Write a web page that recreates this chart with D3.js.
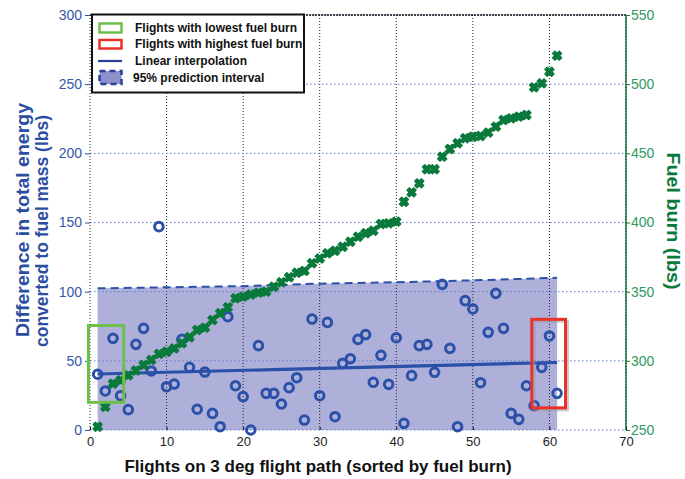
<!DOCTYPE html>
<html><head><meta charset="utf-8">
<script src="https://cdn.jsdelivr.net/npm/d3@7"></script>
<style>body{margin:0;background:#fff}svg{display:block;font-family:"Liberation Sans",Arial,sans-serif}</style>
</head><body><svg id="c" width="685" height="479"></svg>
<script>
// ---- data ----
const flights = d3.range(1, 62);
const energyDiff = [40.3,28.2,66.3,24.8,14.7,61.9,73.5,42.7,147,31.3,33.2,65.5,45.3,15,41.9,12,2.4,81.9,32,24.1,0,61,26.5,26.5,18.8,30.6,37.8,7.2,80.2,24.8,77.8,9.6,48.2,51.5,65.5,69,34.5,54,33,66.7,4.8,39.3,61,61.9,41.7,105.3,59,2.4,93.5,87.5,34.2,70.6,98.8,73.5,12,7.7,32,17.6,45.3,68,26.5];
const fuelBurn = [252.4,266.8,283.5,286,289.5,293,297,300.6,305,306.6,309,312.7,317,322.3,324,329.5,334.4,338.7,345.2,346.4,348,349.3,350,353.6,356.8,360.4,363.7,365,370.5,374,377.7,379.6,382.5,386.1,389.7,392.2,394,398.9,399.4,400.6,415,421.8,428.3,438.5,438.5,447.6,453.1,457.3,460.9,462,462.5,465,469.3,474.1,475.3,476.5,477.7,497.7,500.6,509,520.6];
const fitX = [1, 61];
const fitY = [40.5, 48.8];
const piX = [1, 20, 30, 40, 50, 61];
const piUpper = [102.4, 104, 105.8, 106.8, 108.2, 110];
const piLower = [0, 0, 0, 0, 0, 0];
const xTicks = [0,10,20,30,40,50,60,70];
const yLeftTicks = [0,50,100,150,200,250,300];
const yRightTicks = [250,300,350,400,450,500,550];
const lowBox = {x0:-0.2, x1:4.4, y0:20, y1:75.5};
const highBox = {x0:57.7, x1:62.1, y0:16, y1:80};
const legendItems = ["Flights with lowest fuel burn","Flights with highest fuel burn","Linear interpolation","95% prediction interval"];

// ---- layout ----
const svg = d3.select("#c");
const x = d3.scaleLinear().domain([0,70]).range([90,626]);
const yL = d3.scaleLinear().domain([0,300]).range([430,15]);
const yR = d3.scaleLinear().domain([250,550]).range([430,15]);
const BLUE = "#2b50a8", GREEN = "#0a7a3c", FILL = "#aeb0da";

// prediction interval fill
const area = d3.area().x((d,i)=>x(piX[i])).y0((d,i)=>yL(piLower[i])).y1((d,i)=>yL(piUpper[i]));
svg.append("path").datum(piX).attr("d", area).attr("fill", FILL);

// gridlines
const g = svg.append("g");
xTicks.slice(1,7).forEach(t=>{
  g.append("line").attr("x1",x(t)).attr("x2",x(t)).attr("y1",yL(0)).attr("y2",yL(300))
   .attr("stroke","#222").attr("stroke-width",1).attr("stroke-dasharray","1,2");
});
yLeftTicks.forEach(t=>{
  g.append("line").attr("x1",x(0)).attr("x2",x(70)).attr("y1",yL(t)).attr("y2",yL(t))
   .attr("stroke","#5a7cc8").attr("stroke-width",1).attr("stroke-dasharray","1.5,2.5");
});
// frame
svg.append("line").attr("x1",x(0)).attr("x2",x(70)).attr("y1",yL(300)).attr("y2",yL(300))
  .attr("stroke","#111").attr("stroke-width",1.6).attr("stroke-dasharray","2,1");
svg.append("line").attr("x1",x(0)).attr("x2",x(0)).attr("y1",yL(0)).attr("y2",yL(300))
  .attr("stroke","#222").attr("stroke-width",1).attr("stroke-dasharray","1,2");
svg.append("line").attr("x1",x(70)).attr("x2",x(70)).attr("y1",yL(0)).attr("y2",yL(300))
  .attr("stroke",GREEN).attr("stroke-width",1.5);
svg.append("line").attr("x1",x(70)).attr("x2",x(70)).attr("y1",yL(0)).attr("y2",yL(300))
  .attr("stroke","#111").attr("stroke-width",0.8).attr("stroke-dasharray","1,2");

// axes
const axL = svg.append("g").attr("transform",`translate(${x(0)},0)`)
  .call(d3.axisLeft(yL).tickValues(yLeftTicks).tickSize(5).tickPadding(3));
axL.select(".domain").remove();
axL.selectAll("line").attr("stroke",BLUE);
axL.selectAll("text").attr("fill","#3558a8").attr("font-size",14);

const axR = svg.append("g").attr("transform",`translate(${x(70)},0)`)
  .call(d3.axisRight(yR).tickValues(yRightTicks).tickSize(4).tickPadding(1));
axR.select(".domain").remove();
axR.selectAll("line").attr("stroke",GREEN);
axR.selectAll("text").attr("fill","#2f9a62").attr("font-size",14);

const axB = svg.append("g").attr("transform",`translate(0,${yL(0)})`)
  .call(d3.axisBottom(x).tickValues(xTicks).tickSize(-3).tickPadding(7));
axB.select(".domain").remove();
axB.selectAll("line").attr("stroke","#111");
axB.selectAll("text").attr("fill","#222").attr("font-size",13);

// upper dashed PI line
svg.append("path").datum(piX)
  .attr("d", d3.line().x((d,i)=>x(piX[i])).y((d,i)=>yL(piUpper[i])))
  .attr("fill","none").attr("stroke",BLUE).attr("stroke-width",2).attr("stroke-dasharray","8,5");

// fit line
svg.append("path").datum(fitX)
  .attr("d", d3.line().x((d,i)=>x(fitX[i])).y((d,i)=>yL(fitY[i])))
  .attr("fill","none").attr("stroke",BLUE).attr("stroke-width",3.2);

// circles
svg.append("g").selectAll("circle").data(flights).join("circle")
  .attr("cx",(d)=>x(d)).attr("cy",(d,i)=>yL(energyDiff[i])).attr("r",4.3)
  .attr("fill","none").attr("stroke",BLUE).attr("stroke-width",3);

// green markers
const sym = d3.symbol().type(d3.symbolCross).size(48);
svg.append("g").selectAll("path").data(flights).join("path")
  .attr("transform",(d,i)=>`translate(${x(d)},${yR(fuelBurn[i])}) rotate(45)`)
  .attr("d",sym).attr("fill",GREEN).attr("stroke",GREEN).attr("stroke-width",1.6).attr("stroke-linejoin","round");

// highlight boxes
svg.append("rect").attr("x",x(highBox.x0)+2).attr("y",yL(highBox.y1)+2)
  .attr("width",x(highBox.x1)-x(highBox.x0)).attr("height",yL(highBox.y0)-yL(highBox.y1))
  .attr("fill","none").attr("stroke","#999").attr("stroke-opacity",0.5).attr("stroke-width",3);
[[lowBox,"#6cc04a"],[highBox,"#e8322a"]].forEach(([b,c])=>{
  svg.append("rect").attr("x",x(b.x0)).attr("y",yL(b.y1))
    .attr("width",x(b.x1)-x(b.x0)).attr("height",yL(b.y0)-yL(b.y1))
    .attr("fill","none").attr("stroke",c).attr("stroke-width",3);
});

// legend
const lg = svg.append("g");
lg.append("rect").attr("x",92).attr("y",14.5).attr("width",212).attr("height",78)
  .attr("fill","#fff").attr("stroke","#111").attr("stroke-width",2);
lg.append("rect").attr("x",99.5).attr("y",23.5).attr("width",22).attr("height",9)
  .attr("fill","none").attr("stroke","#6cc04a").attr("stroke-width",2.5);
lg.append("rect").attr("x",99.5).attr("y",40).attr("width",22).attr("height",8.5)
  .attr("fill","none").attr("stroke","#e8322a").attr("stroke-width",2.5);
lg.append("line").attr("x1",98).attr("x2",122).attr("y1",61).attr("y2",61)
  .attr("stroke","#2b3f98").attr("stroke-width",2.2);
lg.append("rect").attr("x",99.5).attr("y",71).attr("width",22).attr("height",13)
  .attr("fill","#8e90cc").attr("stroke","#2b3f98").attr("stroke-width",2.5).attr("stroke-dasharray","6,4");
lg.selectAll("text.lt").data(legendItems).join("text").attr("class","lt")
  .attr("x",(d,i)=>i===3?133:135).attr("y",(d,i)=>31.7+i*16.67)
  .attr("font-size",12).attr("font-weight","bold").attr("fill","#111").text(d=>d);

// axis titles
const t1 = svg.append("text").attr("transform","translate(29,220) rotate(-90)")
  .attr("text-anchor","middle").attr("font-size",18).attr("font-weight","bold").attr("fill","#2b4ea2")
  .attr("textLength",234).attr("lengthAdjust","spacingAndGlyphs").text("Difference in total energy");
svg.append("text").attr("transform","translate(48,231) rotate(-90)")
  .attr("text-anchor","middle").attr("font-size",18).attr("font-weight","bold").attr("fill","#2b4ea2")
  .attr("textLength",232).attr("lengthAdjust","spacingAndGlyphs").text("converted to fuel mass (lbs)");
svg.append("text").attr("transform","translate(667,221) rotate(90)")
  .attr("text-anchor","middle").attr("font-size",18).attr("font-weight","bold").attr("fill",GREEN)
  .attr("textLength",137).attr("lengthAdjust","spacingAndGlyphs").text("Fuel burn (lbs)");
svg.append("text").attr("x",318).attr("y",472).attr("text-anchor","middle")
  .attr("font-size",17).attr("font-weight","bold").attr("fill","#111")
  .text("Flights on 3 deg flight path (sorted by fuel burn)");
</script></body></html>
